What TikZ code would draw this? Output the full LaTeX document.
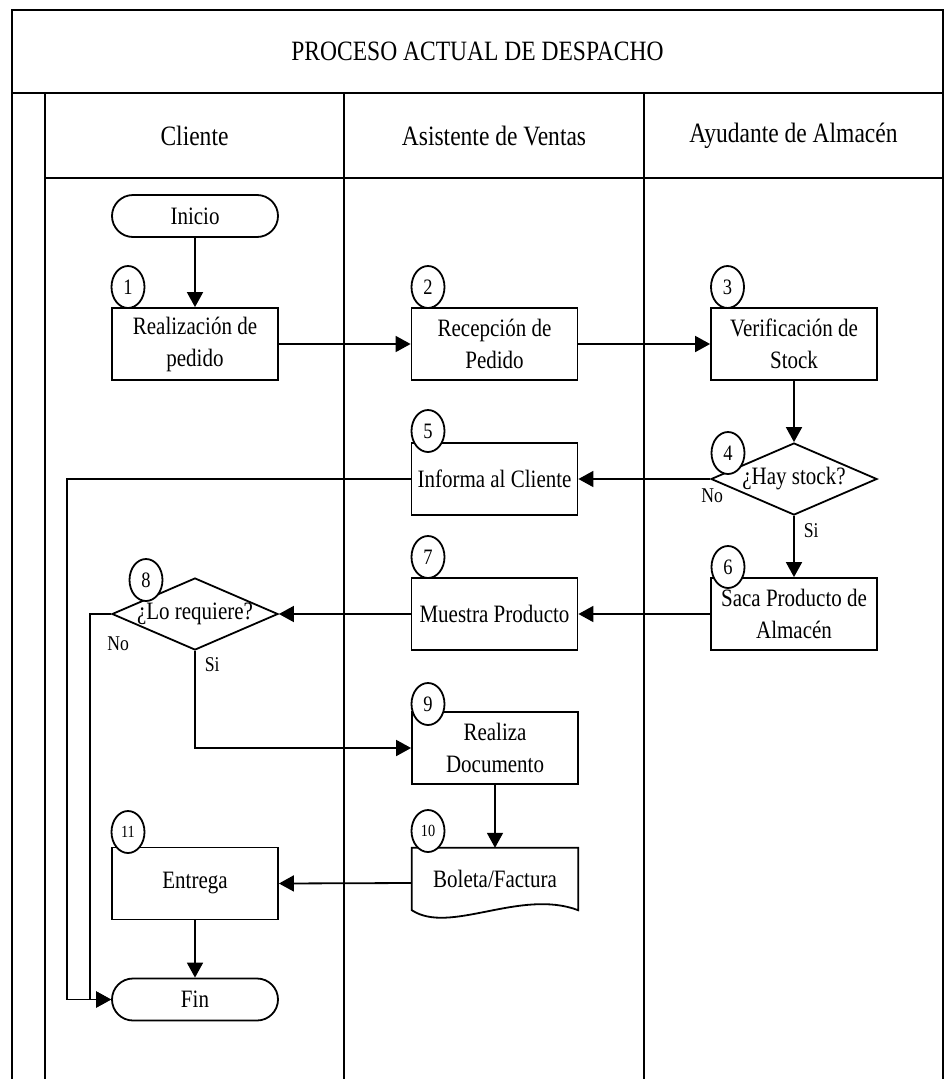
\documentclass[tikz,border=0pt]{standalone}
\usepackage{fontspec}
\setmainfont[FakeStretch=0.84]{Liberation Serif}
\usetikzlibrary{shapes.geometric,arrows.meta,positioning}

\newcommand{\fstitle}{\fontsize{28}{34}\selectfont}
\newcommand{\fsbox}{\fontsize{25}{32}\selectfont}
\newcommand{\fsnum}{\fontsize{22}{26}\selectfont}
\newcommand{\fssmall}{\fontsize{17}{20}\selectfont}
\newcommand{\fslbl}{\fontsize{21}{24}\selectfont}

\begin{document}
\begin{tikzpicture} [
        x=1pt, y=-1pt,
        frame/.style={line width=2pt},
        proc/.style={draw, rectangle, line width=1.8pt, minimum width=166pt, minimum height=72pt, inner sep=0pt, align=center, font=\fsbox},
        term/.style={proc, rounded corners=21pt, minimum height=42pt},
        decision/.style={draw, diamond, line width=1.8pt, minimum width=166pt, minimum height=72pt, inner sep=0pt},
        num/.style={draw, ellipse, fill=white, line width=1.8pt, minimum width=33pt, minimum height=42pt, inner sep=0pt, font=\fsnum},
        lbl/.style={inner sep=0pt, font=\fslbl},
        flow/.style={line width=1.8pt, -{Triangle[length=15pt,width=16pt]}},
        node distance=299.5pt ]
    \useasboundingbox (0,0) rectangle (944,1079);

    % pool and lanes
    \draw[frame] (12,1079) -- (12,10) -- (943,10) -- (943,1079);
    \draw[frame] (12,93) -- (943,93);
    \draw[frame] (45,178) -- (943,178);
    \foreach \x in {45,344,644}
        \draw[frame] (\x,93) -- (\x,1079);

    \node[font=\fstitle] (title) at (477.5,51) {PROCESO ACTUAL DE DESPACHO};
    \node[font=\fstitle] (hcli) at (194.5,135.5) {Cliente};
    \node[font=\fstitle, right of=hcli] (hasi) {Asistente de Ventas};
    \node[font=\fstitle, right of=hasi] (hayu) {Ayudante de Almac\'en};

    % steps
    \node[term] (inicio) at (195,216) {Inicio};
    \node[proc] (pedido) at (195,344) {Realizaci\'on de\\pedido};
    \node[proc, right of=pedido] (recep) {Recepci\'on de\\Pedido};
    \node[proc, right of=recep] (verif) {Verificaci\'on de\\Stock};
    \node[decision, label={[font=\fsbox]center:¿Hay stock?}] (hay) at (794,479) {};
    \node[proc, left of=hay] (informa) {Informa al Cliente};
    \node[proc] (saca) at (794,614) {Saca Producto de\\Almac\'en};
    \node[proc, left of=saca] (muestra) {Muestra Producto};
    \node[decision, left of=muestra, label={[font=\fsbox]center:¿Lo requiere?}] (lorequ) {};
    \node[proc] (realiza) at (495,748) {Realiza\\Documento};
    \node[minimum width=166pt, minimum height=62pt, inner sep=0pt, font=\fsbox] (boleta) at (495,879) {Boleta/Factura};
    \draw[line width=1.8pt] (boleta.south west) -- (boleta.north west) -- (boleta.north east) -- (boleta.south east)
        .. controls ([xshift=-58pt,yshift=22pt]boleta.south east) and ([xshift=38pt,yshift=-25pt]boleta.south west) .. (boleta.south west) -- cycle;
    \node[proc] (entrega) at (195,883.5) {Entrega};
    \node[term] (fin) at (195,999.5) {Fin};

    % connectors
    \draw[flow] (inicio) -- (pedido);
    \draw[flow] (pedido) -- (recep);
    \draw[flow] (recep) -- (verif);
    \draw[flow] (verif) -- (hay);
    \draw[flow] (hay.west) -- node[lbl, pos=0, below=9pt, xshift=2pt] (no4) {No} (informa);
    \draw[flow] (hay) -- node[lbl, pos=0.24, right=9pt] (si4) {Si} (saca);
    \draw[flow] (saca) -- (muestra);
    \draw[flow] (muestra) -- (lorequ);
    \draw[flow] (lorequ.south) |- node[lbl, pos=0.07, right=9pt] (si8) {Si} (realiza.west);
    \draw[flow] (lorequ.west) -- node[lbl, pos=0, below=22pt, xshift=7pt] (no8) {No} ++(-21,0) |- (fin.west);
    \draw[flow] (informa.west) -- ++(-344,0) |- (fin.west);
    \draw[flow] (realiza) -- (boleta);
    \draw[flow] ([yshift=-4pt]boleta.west) -- (entrega.east);
    \draw[flow] (entrega) -- (fin);

    % step numbers
    \foreach \n/\x/\y in {1/128/287, 2/428/287, 3/727.5/287, 4/728/453, 5/428/431,
                          6/728/567, 7/428/557, 8/146/580, 9/428/704}
        \node[num] (c\n) at (\x,\y) {\n};
    \node[num, font=\fssmall] (c10) at (428,831) {10};
    \node[num, font=\fssmall] (c11) at (128,832) {11};
\end{tikzpicture}
\end{document}
